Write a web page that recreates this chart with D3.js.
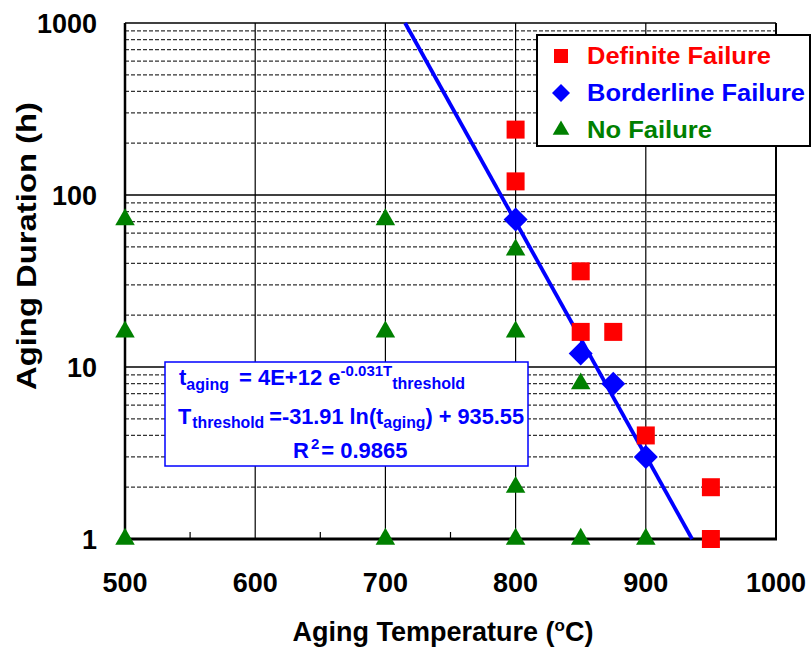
<!DOCTYPE html>
<html>
<head>
<meta charset="utf-8">
<script src="https://cdn.jsdelivr.net/npm/d3@7/dist/d3.min.js"></script>
<style>
  body { margin: 0; background: #fff; }
  text { font-family: "Liberation Sans", Arial, sans-serif; font-weight: bold; }
</style>
</head>
<body>
<div id="chart"></div>
<script>
// data
const definiteT = [800, 800, 850, 850, 875, 900, 950, 950]
const definiteH = [240, 120, 36, 16, 16, 4, 2, 1]
const borderT = [800, 850, 875, 900]
const borderH = [72, 12, 8, 3]
const noFailT = [500, 500, 500, 700, 700, 700, 800, 800, 800, 800, 850, 850, 900]
const noFailH = [72, 16, 1, 72, 16, 1, 48, 16, 2, 1, 8, 1, 1]
// T = slope * ln(t) + intercept
const fitSlope = -31.91, fitIntercept = 935.55
const fitHours = [1, 1000]
const xTicks = [500, 600, 700, 800, 900, 1000]
const xMinor = [550, 650, 750, 850, 950]
const yTicks = [1, 10, 100, 1000]
const legendNames = ["Definite Failure", "Borderline Failure", "No Failure"]
const legendColors = ["#ff0000", "#0000ff", "#008000"]

let width = 812, height = 649
let xScale = d3.scaleLinear().domain([500, 1000]).range([125, 776])
let yScale = d3.scaleLog().domain([1, 1000]).range([539, 23])

let svg = d3.select("#chart").append("svg")
    .attr("width", width)
    .attr("height", height)

// minor horizontal gridlines (dashed)
let yMinor = []
yTicks.slice(0, 3).forEach(d => { for (let m = 2; m < 10; m++) yMinor.push(d * m) })

let grid = svg.append("g")
grid.selectAll(".ymin").data(yMinor).enter().append("line")
  .attr("x1", xScale(500)).attr("x2", xScale(1000))
  .attr("y1", d => yScale(d)).attr("y2", d => yScale(d))
  .attr("stroke", "#333").attr("stroke-width", 1.2)
  .attr("stroke-dasharray", "4,2")

grid.selectAll(".ymaj").data(yTicks).enter().append("line")
  .attr("x1", xScale(500)).attr("x2", xScale(1000))
  .attr("y1", d => yScale(d)).attr("y2", d => yScale(d))
  .attr("stroke", "#000").attr("stroke-width", 1.5)

grid.selectAll(".xmaj").data(xTicks).enter().append("line")
  .attr("x1", d => xScale(d)).attr("x2", d => xScale(d))
  .attr("y1", yScale(1)).attr("y2", yScale(1000))
  .attr("stroke", "#000").attr("stroke-width", 1.2)

// minor x ticks pointing up from the bottom axis
grid.selectAll(".xmin").data(xMinor).enter().append("line")
  .attr("x1", d => xScale(d)).attr("x2", d => xScale(d))
  .attr("y1", yScale(1)).attr("y2", yScale(1) - 7)
  .attr("stroke", "#000").attr("stroke-width", 1.2)

// axes frame
svg.append("line")
  .attr("x1", xScale(500)).attr("x2", xScale(500))
  .attr("y1", yScale(1000)).attr("y2", yScale(1) + 1)
  .attr("stroke", "#000").attr("stroke-width", 2.5)
svg.append("line")
  .attr("x1", xScale(500) - 1).attr("x2", xScale(1000) + 1)
  .attr("y1", yScale(1)).attr("y2", yScale(1))
  .attr("stroke", "#000").attr("stroke-width", 3)
svg.append("line")
  .attr("x1", xScale(1000)).attr("x2", xScale(1000))
  .attr("y1", yScale(1000)).attr("y2", yScale(1))
  .attr("stroke", "#000").attr("stroke-width", 2)

// tick labels
svg.selectAll(".xlab").data(xTicks).enter().append("text")
  .attr("x", d => xScale(d)).attr("y", 592)
  .attr("text-anchor", "middle")
  .attr("font-size", 27)
  .text(d => d)

svg.selectAll(".ylab").data(yTicks).enter().append("text")
  .attr("x", 97).attr("y", d => yScale(d) + 10)
  .attr("text-anchor", "end")
  .attr("font-size", 27)
  .text(d => d)

// axis titles
let xt = svg.append("text")
  .attr("x", 443).attr("y", 641)
  .attr("text-anchor", "middle")
  .attr("font-size", 27)
xt.append("tspan").text("Aging Temperature (")
xt.append("tspan").attr("font-size", 17).attr("dy", -10).text("o")
xt.append("tspan").attr("dy", 10).text("C)")

svg.append("text")
  .attr("transform", "translate(36,246) rotate(-90)")
  .attr("text-anchor", "middle")
  .attr("font-size", 28)
  .attr("textLength", 288)
  .attr("lengthAdjust", "spacingAndGlyphs")
  .text("Aging Duration (h)")

// trendline from the fit equation
svg.append("line")
  .attr("x1", xScale(fitSlope * Math.log(fitHours[0]) + fitIntercept))
  .attr("y1", yScale(fitHours[0]))
  .attr("x2", xScale(fitSlope * Math.log(fitHours[1]) + fitIntercept))
  .attr("y2", yScale(fitHours[1]))
  .attr("stroke", "#0000ff").attr("stroke-width", 3.8)

// marker shapes
let square = d3.symbol().type(d3.symbolSquare).size(324)
let tri = d3.symbol().type(d3.symbolTriangle).size(165)
let diamond = "M0,-12L12,0L0,12L-12,0Z"

let marks = svg.append("g")
marks.selectAll(".nf").data(noFailT).enter().append("path")
  .attr("d", tri)
  .attr("transform", (d, i) => "translate(" + xScale(d) + "," + yScale(noFailH[i]) + ")")
  .attr("fill", legendColors[2])
marks.selectAll(".df").data(definiteT).enter().append("path")
  .attr("d", square)
  .attr("transform", (d, i) => "translate(" + xScale(d) + "," + yScale(definiteH[i]) + ")")
  .attr("fill", legendColors[0])
marks.selectAll(".bf").data(borderT).enter().append("path")
  .attr("d", diamond)
  .attr("transform", (d, i) => "translate(" + xScale(d) + "," + yScale(borderH[i]) + ")")
  .attr("fill", legendColors[1])

// equation box
let eq = svg.append("g")
eq.append("rect")
  .attr("x", 165).attr("y", 362).attr("width", 363).attr("height", 104)
  .attr("fill", "#fff").attr("stroke", "#0000ff").attr("stroke-width", 1.5)

let l1 = eq.append("text").attr("x", 179).attr("y", 385).attr("fill", "#0000ff").attr("font-size", 22)
l1.append("tspan").text("t")
l1.append("tspan").attr("font-size", 16).attr("dy", 5).text("aging")
l1.append("tspan").attr("dy", -5).attr("dx", 10).text("= 4E+12 e")
l1.append("tspan").attr("font-size", 15).attr("dy", -9).text("-0.031T")
l1.append("tspan").attr("font-size", 16).attr("dy", 13).text("threshold")

let l2 = eq.append("text").attr("x", 178).attr("y", 424).attr("fill", "#0000ff").attr("font-size", 22)
  .attr("textLength", 346).attr("lengthAdjust", "spacingAndGlyphs")
l2.append("tspan").text("T")
l2.append("tspan").attr("font-size", 16).attr("dy", 4).attr("dx", 1).text("threshold")
l2.append("tspan").attr("dy", -4).attr("dx", 5).text("=-31.91 ln(t")
l2.append("tspan").attr("font-size", 16).attr("dy", 4).text("aging")
l2.append("tspan").attr("dy", -4).text(") + 935.55")

let l3 = eq.append("text").attr("x", 293).attr("y", 458).attr("fill", "#0000ff").attr("font-size", 22)
l3.append("tspan").text("R")
l3.append("tspan").attr("font-size", 15).attr("dy", -9).attr("dx", 2).text("2")
l3.append("tspan").attr("dy", 9).attr("dx", 2).text("= 0.9865")

// legend
let lg = svg.append("g")
lg.append("rect")
  .attr("x", 537).attr("y", 35).attr("width", 273).attr("height", 111)
  .attr("fill", "#fff").attr("stroke", "#000").attr("stroke-width", 2)

let legendShapes = [d3.symbol().type(d3.symbolSquare).size(196)(), "M0,-9L9,0L0,9L-9,0Z", d3.symbol().type(d3.symbolTriangle).size(120)()]
let legendWidths = [184, 218, 125]
legendNames.forEach((name, i) => {
  let cy = 56 + i * 37
  lg.append("path")
    .attr("d", legendShapes[i])
    .attr("transform", "translate(561," + cy + ")")
    .attr("fill", legendColors[i])
  lg.append("text")
    .attr("x", 587).attr("y", cy + 8)
    .attr("font-size", 23)
    .attr("textLength", legendWidths[i])
    .attr("lengthAdjust", "spacingAndGlyphs")
    .attr("fill", legendColors[i])
    .text(name)
})
</script>
</body>
</html>
